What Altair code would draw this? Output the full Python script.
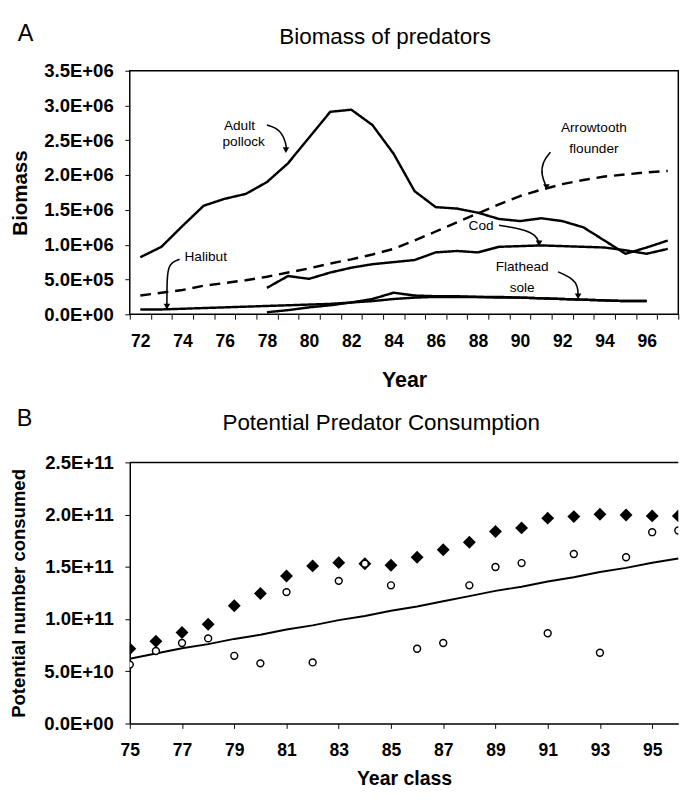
import altair as alt
import pandas as pd

FONT = "Liberation Sans"

# ---------------- Panel A: Biomass of predators ----------------
years_a = list(range(72, 98))
pollock = [0.82, 0.97, 1.27, 1.56, 1.66, 1.73, 1.90, 2.17, 2.54, 2.91, 2.94, 2.72, 2.31,
           1.77, 1.54, 1.52, 1.46, 1.37, 1.34, 1.38, 1.34, 1.25, 1.06, 0.87, 0.96, 1.06]
arrowtooth = [0.27, 0.31, 0.35, 0.41, 0.45, 0.49, 0.54, 0.60, 0.66, 0.73, 0.79, 0.86, 0.94,
              1.06, 1.19, 1.32, 1.45, 1.58, 1.70, 1.79, 1.87, 1.93, 1.98, 2.01, 2.04, 2.06]
cod_years = list(range(78, 98))
cod = [0.38, 0.55, 0.51, 0.60, 0.67, 0.72, 0.75, 0.78, 0.89, 0.91, 0.89, 0.97, 0.98, 0.99,
       0.98, 0.97, 0.96, 0.92, 0.87, 0.94]
halibut_years = list(range(72, 97))
halibut = [0.07, 0.07, 0.08, 0.09, 0.10, 0.11, 0.12, 0.13, 0.14, 0.15, 0.17, 0.19, 0.22,
           0.24, 0.25, 0.25, 0.25, 0.24, 0.24, 0.23, 0.22, 0.21, 0.20, 0.19, 0.19]
flathead_years = list(range(78, 97))
flathead = [0.03, 0.06, 0.10, 0.13, 0.17, 0.22, 0.31, 0.27, 0.26, 0.26, 0.25, 0.25, 0.24,
            0.23, 0.22, 0.21, 0.20, 0.19, 0.19]

ann_text = ["Adult", "pollock", "Arrowtooth", "flounder", "Cod", "Halibut", "Flathead", "sole"]
ann_x = [76.7, 76.9, 93.5, 93.5, 88.15, 75.1, 90.1, 90.1]
ann_y = [2.71, 2.47, 2.68, 2.38, 1.27, 0.82, 0.68, 0.38]

arrow_id = ["p"] * 4 + ["a"] * 4 + ["c"] * 4 + ["h"] * 4 + ["f"] * 4
arrow_x = [78.0, 78.65, 78.94, 78.9,
           91.44, 91.06, 91.0, 91.25,
           89.0, 90.2, 90.78, 90.9,
           73.86, 73.33, 73.26, 73.26,
           91.8, 92.47, 92.75, 92.75]
arrow_y = [2.72, 2.66, 2.43, 2.36,
           2.33, 2.19, 2.0, 1.83,
           1.28, 1.22, 1.13, 1.02,
           0.79, 0.73, 0.49, 0.11,
           0.61, 0.52, 0.40, 0.26]

# ---------------- Panel B: Potential Predator Consumption ----------------
years_b = list(range(75, 97))
potential = [0.716, 0.787, 0.871, 0.951, 1.128, 1.245, 1.413, 1.509, 1.540, 1.530, 1.515,
             1.592, 1.664, 1.735, 1.838, 1.873, 1.966, 1.981, 2.003, 1.997, 1.988, 1.988]
observed = [0.564, 0.694, 0.771, 0.815, 0.648, 0.576, 1.258, 0.585, 1.366, 1.530, 1.323,
            0.716, 0.771, 1.323, 1.499, 1.536, 0.864, 1.623, 0.678, 1.592, 1.832, 1.848]
trend = [0.62, 0.67, 0.72, 0.76, 0.81, 0.85, 0.90, 0.94, 0.99, 1.03, 1.08, 1.12, 1.17,
         1.22, 1.27, 1.31, 1.36, 1.40, 1.45, 1.49, 1.54, 1.58]

# ---------------- build tables ----------------
rows = []
for name, yrs, vals in [("Adult pollock", years_a, pollock),
                        ("Arrowtooth flounder", years_a, arrowtooth),
                        ("Cod", cod_years, cod),
                        ("Halibut", halibut_years, halibut),
                        ("Flathead sole", flathead_years, flathead)]:
    for yv, v in zip(yrs, vals):
        rows.append({"species": name, "year": yv, "biomass": v * 1e6})
dfA = pd.DataFrame(rows)

dfAnn = pd.DataFrame({"t": ann_text, "x": ann_x, "y": [v * 1e6 for v in ann_y]})
dfArrow = pd.DataFrame({"id": arrow_id, "x": arrow_x, "y": [v * 1e6 for v in arrow_y],
                        "k": list(range(len(arrow_x)))})
dfTip = dfArrow.groupby("id").tail(1)

dfB = pd.DataFrame({"year": years_b,
                    "potential": [v * 1e11 for v in potential],
                    "observed": [v * 1e11 for v in observed],
                    "trend": [v * 1e11 for v in trend]})

WA, HA = 563, 250
WB, HB = 563, 268

half_years = [71.5 + i for i in range(27)]
xa_scale = alt.Scale(domain=[71.5, 97.5], nice=False, zero=False)
ya_scale = alt.Scale(domain=[0, 3.5e6], nice=False)

exp_a = "datum.value == 0 ? '0.0E+00' : replace(format(datum.value, '.1e'), 'e+', 'E+0')"
exp_b = "datum.value == 0 ? '0.0E+00' : replace(format(datum.value, '.1e'), 'e+', 'E+')"

common_axis = dict(labelFont=FONT, labelFontWeight="bold", labelColor="black",
                   titleFont=FONT, titleFontWeight="bold", titleColor="black",
                   tickColor="black", grid=False,
                   labelOverlap=False, labelFlush=False, labelBound=False)

xa_axis = alt.Axis(values=half_years,
                   labelExpr="(datum.value + 0.5) % 2 == 0 && datum.value < 97 ? format(datum.value + 0.5, 'd') : ''",
                   labelOffset=WA / 26 / 2, tickSize=5, domain=False, title="Year",
                   titleFontSize=22, labelFontSize=18, labelPadding=14, titleY=57,
                   **common_axis)
ya_axis = alt.Axis(values=[i * 5e5 for i in range(8)], labelExpr=exp_a, tickSize=5,
                   domain=False, title="Biomass", titleFontSize=21, labelFontSize=19,
                   labelPadding=12, titleX=-102, **common_axis)

XA = lambda f: alt.X(f, type="quantitative", scale=xa_scale, axis=xa_axis)
YA = lambda f: alt.Y(f, type="quantitative", scale=ya_scale, axis=ya_axis)

one = pd.DataFrame({"t": [""]})


def head(text, size, x, y):
    return alt.Chart(pd.DataFrame({"t": [text]})).mark_text(
        font=FONT, fontSize=size, align="center", baseline="alphabetic", color="black"
    ).encode(x=alt.value(x), y=alt.value(y), text="t:N")


def spacer_h(y, w):
    # invisible horizontal guide that fixes the panel's layout extent
    return alt.Chart(one).mark_rule(opacity=0, strokeOpacity=0).encode(
        x=alt.value(0), x2=alt.value(w), y=alt.value(y))


def spacer_v(x, h):
    return alt.Chart(one).mark_rule(opacity=0, strokeOpacity=0).encode(
        x=alt.value(x), y=alt.value(0), y2=alt.value(h))


lines = alt.Chart(dfA).mark_line(color="black", strokeWidth=2.5, strokeJoin="round").encode(
    x=XA("year"), y=YA("biomass"),
    detail="species:N",
    strokeDash=alt.StrokeDash("species:N", legend=None,
                              scale=alt.Scale(domain=["Adult pollock", "Arrowtooth flounder", "Cod",
                                                      "Halibut", "Flathead sole"],
                                              range=[[1, 0], [11, 7], [1, 0], [1, 0], [1, 0]])),
)

labels = alt.Chart(dfAnn).mark_text(font=FONT, fontSize=14, color="black").encode(
    x=XA("x"), y=YA("y"), text="t:N")

arrows = alt.Chart(dfArrow).mark_line(color="black", strokeWidth=1.6, interpolate="basis").encode(
    x=XA("x"), y=YA("y"), detail="id:N", order="k:Q")

tips = alt.Chart(dfTip).mark_point(shape="triangle-down", filled=True, color="black", size=45,
                                   opacity=1).encode(x=XA("x"), y=YA("y"))

panelA = alt.layer(lines, arrows, tips, labels,
                   head("A", 24, -107, -31),
                   head("Biomass of predators", 23, 262, -27),
                   spacer_h(-75, WA), spacer_h(HA + 84, WA), spacer_v(-133, HA)).properties(
    width=WA, height=HA,
    view=alt.ViewBackground(stroke="black", strokeWidth=1.5),
)

# ---------------- Panel B ----------------
xb_scale = alt.Scale(domain=[75, 96], nice=False, zero=False)
yb_scale = alt.Scale(domain=[0, 2.5e11], nice=False)

xb_axis = alt.Axis(values=list(range(75, 96, 2)), format="d", tickSize=5, domain=True,
                   domainColor="black", domainWidth=1.5, title="Year class", titleFontSize=20,
                   labelFontSize=18, labelPadding=14, titleY=47, **common_axis)
yb_axis = alt.Axis(values=[i * 5e10 for i in range(6)], labelExpr=exp_b, tickSize=5,
                   domain=True, domainColor="black", domainWidth=1.5,
                   title="Potential number consumed", titleFontSize=19, labelFontSize=19,
                   labelPadding=12, titleX=-104, **common_axis)

XB = lambda f: alt.X(f, type="quantitative", scale=xb_scale, axis=xb_axis)
YB = lambda f: alt.Y(f, type="quantitative", scale=yb_scale, axis=yb_axis)

base_b = alt.Chart(dfB)
trend_line = base_b.mark_line(color="black", strokeWidth=2).encode(x=XB("year"), y=YB("trend"))
diamonds = base_b.mark_point(shape="diamond", filled=True, color="black", size=175, opacity=1,
                             clip=True).encode(x=XB("year"), y=YB("potential"))
circles = base_b.mark_point(shape="circle", filled=True, fill="white", stroke="black",
                            strokeWidth=1.5, size=50, opacity=1, clip=True).encode(
    x=XB("year"), y=YB("observed"))
top_rule = alt.Chart(pd.DataFrame({"v": [2.5e11]})).mark_rule(color="black", strokeWidth=1.5).encode(
    y=YB("v"))

panelB = alt.layer(trend_line, top_rule, diamonds, circles,
                   head("B", 24, -108, -37),
                   head("Potential Predator Consumption", 23, 258, -33),
                   spacer_h(-64, WB), spacer_v(-133, HB)).properties(
    width=WB, height=HB)

chart = alt.vconcat(panelA, panelB, spacing=3).properties(
    padding={"left": -9, "top": -22, "right": 0, "bottom": -3}
).configure_view(stroke=None)

chart.save("out.html", embed_options={"renderer": "svg", "actions": False})
